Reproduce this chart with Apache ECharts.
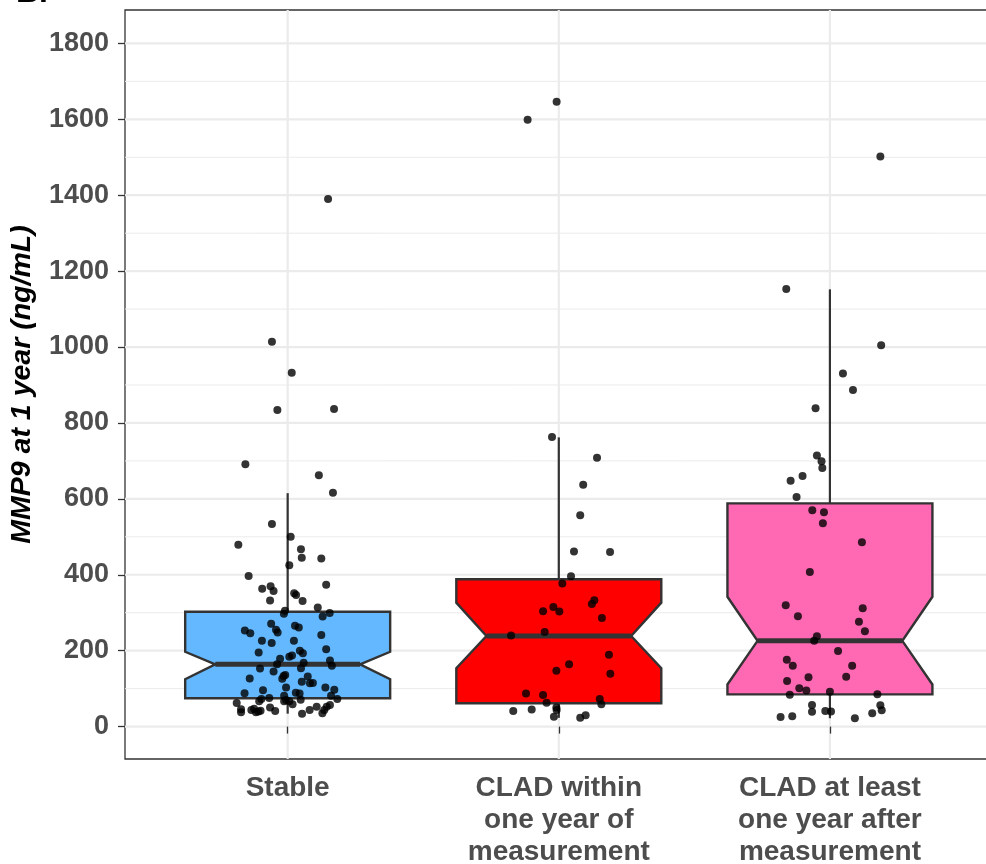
<!DOCTYPE html>
<html><head><meta charset="utf-8">
<script src="https://cdn.jsdelivr.net/npm/echarts@6/dist/echarts.min.js"></script>
<style>html,body{margin:0;padding:0;background:#fff}#c{width:986px;height:864px}</style>
</head><body><div id="c"></div>
<script>
const categories = ['Stable', 'CLAD within\none year of\nmeasurement', 'CLAD at least\none year after\nmeasurement'];
const yTicks = [0, 200, 400, 600, 800, 1000, 1200, 1400, 1600, 1800];
const yMinorTicks = [100, 300, 500, 700, 900, 1100, 1300, 1500, 1700];

// box statistics per category
const boxQ1 = [74.5, 61.4, 85];
const boxMedian = [164, 238.7, 226];
const boxQ3 = [302.7, 388, 588];
const notchLow = [125, 153.6, 111];
const notchHigh = [197, 326.5, 342];
const whiskerLow = [34, 23, 22];
const whiskerHigh = [615, 762, 1152];

// jittered observations (value, horizontal jitter in category units)
const stableValues = [1390,1014,932,834,837,691,662,616,534,479,500,467,445,443,425,397,374,363,370,357,351,347,332,331,314,305,297,299,290,271,266,261,253,246,255,248,241,226,220,226,204,195,200,193,184,187,179,174,168,164,160,153,154,145,133,136,126,132,127,118,114,115,103,103,97,96,88,89,87,81,81,75,73,67,70,71,73,62,67,67,59,57,46,38,44,47,38,40,42,50,41,34,44,52,35,44,52];
const stableJitter = [0.149,-0.058,0.015,-0.038,0.171,-0.156,0.115,0.167,-0.058,-0.182,0.011,0.049,0.052,0.124,0.006,-0.144,0.142,-0.094,-0.063,-0.052,0.024,0.031,-0.065,0.055,0.111,-0.010,-0.014,0.155,0.129,-0.061,0.027,0.041,-0.158,-0.138,-0.043,-0.037,0.124,-0.095,-0.059,0.023,0.142,-0.107,0.045,0.056,0.006,0.016,-0.028,0.156,0.059,-0.039,0.163,-0.102,0.049,-0.052,-0.015,-0.009,-0.020,0.074,-0.140,0.052,0.082,0.093,-0.006,0.139,0.172,-0.091,-0.159,0.030,0.044,-0.013,0.160,-0.068,-0.097,-0.105,-0.006,0.048,0.183,-0.188,-0.013,0.006,0.018,0.156,-0.172,-0.172,-0.134,-0.124,-0.117,-0.108,-0.100,-0.065,-0.046,0.053,0.081,0.107,0.128,0.135,0.144];

const withinValues = [1646,1599,763,708,637,557,461,460,396,377,333,323,315,304,303,286,240,249,189,164,147,139,87,83,63,73,59,41,45,50,44,26,23,30];
const withinJitter = [-0.008,-0.115,-0.025,0.141,0.090,0.079,0.056,0.189,0.045,0.013,0.131,0.122,-0.020,-0.058,0.002,0.159,-0.176,-0.052,0.185,0.038,-0.009,0.190,-0.121,-0.058,-0.045,0.151,0.157,-0.168,-0.100,-0.009,-0.008,-0.018,0.079,0.099];

const afterValues = [1502,1153,1005,930,887,839,714,699,681,660,648,605,570,565,536,486,407,320,312,291,276,251,238,226,199,176,160,160,120,130,131,101,95,84,92,85,57,56,43,39,41,40,35,25,27,22];
const afterJitter = [0.186,-0.161,0.189,0.048,0.085,-0.053,-0.048,-0.031,-0.028,-0.101,-0.145,-0.123,-0.065,-0.022,-0.026,0.118,-0.074,-0.163,0.121,-0.118,0.107,0.129,-0.048,-0.058,0.030,-0.159,-0.137,0.082,-0.158,-0.079,0.060,-0.113,-0.087,-0.148,0,0.175,-0.066,0.186,0.191,-0.066,-0.017,0.004,0.156,-0.182,-0.139,0.092];

const boxColors = ['#63B8FF', '#FF0000', '#FF69B4'];
const BOX_HALF = 0.378, NOTCH_HALF = 0.267;
const FONT = 'Liberation Sans, Arial, Helvetica, sans-serif';

const chart = echarts.init(document.getElementById('c'), null, {renderer: 'canvas'});

const pointData = [];
[[stableValues, stableJitter], [withinValues, withinJitter], [afterValues, afterJitter]].forEach((g, gi) => {
  g[0].forEach((v, k) => pointData.push([gi + 1 + g[1][k], v]));
});

const boxData = categories.map((c, i) => [i + 1, boxQ1[i], boxMedian[i], boxQ3[i], notchLow[i], notchHigh[i], whiskerLow[i], whiskerHigh[i]]);

function renderBox(params, api) {
  const x = api.value(0), q1 = api.value(1), med = api.value(2), q3 = api.value(3);
  const nl = api.value(4), nh = api.value(5), wl = api.value(6), wh = api.value(7);
  const c = (a, b) => api.coord([a, b]);
  const L = x - BOX_HALF, R = x + BOX_HALF, NL = x - NOTCH_HALF, NR = x + NOTCH_HALF;
  const poly = [c(L, q3), c(R, q3), c(R, nh), c(NR, med), c(R, nl), c(R, q1), c(L, q1), c(L, nl), c(NL, med), c(L, nh)];
  const stroke = '#333333';
  return {
    type: 'group',
    children: [
      {type: 'line', shape: {x1: c(x, q3)[0], y1: c(x, q3)[1], x2: c(x, wh)[0], y2: c(x, wh)[1]}, style: {stroke, lineWidth: 2.2}},
      {type: 'line', shape: {x1: c(x, q1)[0], y1: c(x, q1)[1], x2: c(x, wl)[0], y2: c(x, wl)[1]}, style: {stroke, lineWidth: 2.2}},
      {type: 'polygon', shape: {points: poly}, style: {fill: boxColors[params.dataIndex], stroke, lineWidth: 2.4, lineJoin: 'miter'}},
      {type: 'line', shape: {x1: c(NL, med)[0], y1: c(NL, med)[1], x2: c(NR, med)[0], y2: c(NR, med)[1]}, style: {stroke, lineWidth: 5}}
    ]
  };
}

function renderGrid(params, api) {
  const cs = params.coordSys;
  const children = [];
  yMinorTicks.forEach(v => {
    const y = api.coord([1, v])[1];
    children.push({type: 'line', shape: {x1: cs.x, y1: y, x2: cs.x + cs.width, y2: y}, style: {stroke: '#EBEBEB', lineWidth: 1}});
  });
  yTicks.forEach(v => {
    const y = api.coord([1, v])[1];
    children.push({type: 'line', shape: {x1: cs.x, y1: y, x2: cs.x + cs.width, y2: y}, style: {stroke: '#EBEBEB', lineWidth: 2.2}});
  });
  categories.forEach((cat, i) => {
    const x = api.coord([i + 1, 0])[0];
    children.push({type: 'line', shape: {x1: x, y1: cs.y, x2: x, y2: cs.y + cs.height}, style: {stroke: '#EBEBEB', lineWidth: 2.2}});
  });
  return {type: 'group', children};
}

chart.setOption({
  animation: false,
  backgroundColor: '#fff',
  graphic: [{type: 'text', left: 16, top: -23, style: {text: 'B.', font: 'bold 32px ' + FONT, fill: '#000'}}],
  grid: {left: 125, top: 10, width: 867.6, height: 749, containLabel: false, outerBoundsMode: 'none',
         show: true, borderColor: '#333333', borderWidth: 1.3, backgroundColor: 'transparent'},
  xAxis: {
    type: 'value', min: 0.4, max: 3.6,
    axisLine: {show: false},
    splitLine: {show: false},
    axisTick: {show: true, customValues: [1, 2, 3], length: 7, lineStyle: {color: '#333333', width: 1.3}},
    axisLabel: {
      customValues: [1, 2, 3], margin: 13,
      formatter: v => categories[Math.round(v) - 1],
      fontFamily: FONT, fontWeight: 'bold', fontSize: 28, lineHeight: 32, color: '#4D4D4D', align: 'center'
    }
  },
  yAxis: {
    type: 'value', min: -85.4, max: 1888,
    name: 'MMP9 at 1 year (ng/mL)', nameLocation: 'middle', nameGap: 88, nameRotate: 90,
    nameTextStyle: {fontFamily: FONT, fontWeight: 'bold', fontStyle: 'italic', fontSize: 28.5, color: '#000'},
    axisLine: {show: false},
    splitLine: {show: false},
    axisTick: {show: true, customValues: yTicks, length: 7, lineStyle: {color: '#333333', width: 1.3}},
    axisLabel: {customValues: yTicks, margin: 16, formatter: v => String(Math.round(v)),
                fontFamily: FONT, fontWeight: 'bold', fontSize: 27, color: '#4D4D4D'}
  },
  series: [
    {type: 'custom', renderItem: renderGrid, data: [[1, 0]], z: 0, silent: true},
    {type: 'custom', renderItem: renderBox, data: boxData, z: 2, silent: true},
    {type: 'scatter', data: pointData, symbol: 'circle', symbolSize: 8, itemStyle: {color: '#000'}, z: 3, silent: true}
  ]
});
</script></body></html>
